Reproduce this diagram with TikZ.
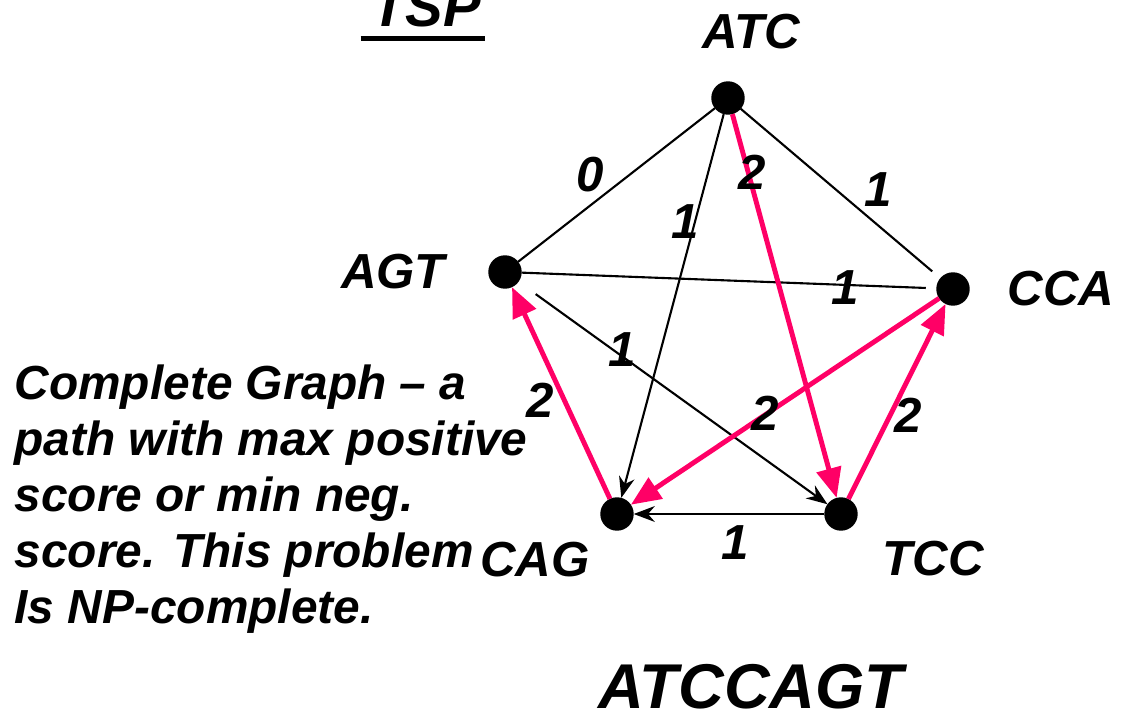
\documentclass[tikz,border=0pt]{standalone}
\usepackage{fontspec}
\setmainfont{Liberation Sans}
\usetikzlibrary{arrows.meta}
\definecolor{hotpink}{RGB}{255,0,102}

\begin{document}
\begin{tikzpicture}[x=0.01cm,y=-0.01cm]
\tikzset{blpoint/.style = {circle, fill=black, draw=black, inner sep=0pt, minimum size=0.32cm}}
\tikzset{lbl/.style = {font=\bfseries\itshape\fontsize{14}{16}\selectfont, inner sep=0pt}}
\tikzset{bkline/.style = {black, line width=0.6pt}}
\tikzset{bkarrow/.style = {bkline, -{Stealth[length=6pt,width=4.5pt]}}}
\tikzset{pkarrow/.style = {hotpink, line width=1.4pt, -{Triangle[length=8.5pt,width=7pt]}}}

\useasboundingbox (0,0) rectangle (1130,718);

    \node[blpoint] (atc) at (728,98) {};
    \node[blpoint] (agt) at (505,272) {};
    \node[blpoint] (cca) at (953,289) {};
    \node[blpoint] (cag) at (617,514) {};
    \node[blpoint] (tcc) at (841,514) {};

    \node[lbl] (latc) at (751,32) {ATC};
    \node[lbl] (lagt) at (393,272) {AGT};
    \node[lbl] (lcca) at (1061,289) {CCA};
    \node[lbl] (lcag) at (535,560) {CAG};
    \node[lbl] (ltcc) at (933,559) {TCC};

\draw[bkline] (atc) -- (agt);
\draw[bkline, shorten >=3pt] (atc) -- (cca);
\draw[bkline, shorten >=3pt] (agt) -- (cca);
\draw[bkarrow] (atc) -- (cag);
\draw[bkarrow, shorten <=6pt] (agt) -- (tcc);
\draw[bkarrow] (tcc) -- (cag);

\draw[pkarrow] (atc) -- (tcc);
\draw[pkarrow] (tcc) -- (cca);
\draw[pkarrow] (cca) -- (cag);
\draw[pkarrow] (cag) -- (agt);

    \node[lbl] (w1) at (590,175) {0};
    \node[lbl] (w2) at (878,190) {1};
    \node[lbl] (w3) at (685,222) {1};
    \node[lbl] (w4) at (845,288) {1};
    \node[lbl] (w5) at (622,350) {1};
    \node[lbl] (w6) at (735,543) {1};
    \node[lbl] (w7) at (752,172) {2};
    \node[lbl] (w8) at (765,413) {2};
    \node[lbl] (w9) at (908,415) {2};
    \node[lbl] (w10) at (540,400) {2};

    \node[lbl, font=\bfseries\itshape\fontsize{16}{18}\selectfont, anchor=base] (tsp) at (426,27) {TSP};
    \draw[line width=1.4pt] (tsp.south west) ++(-10,10) -- ++(124,0);

    \node[lbl, font=\bfseries\itshape\fontsize{18}{20}\selectfont] (seq) at (751,687) {ATCCAGT};

    \node[lbl, font=\bfseries\itshape\fontsize{13.6}{15.9}\selectfont, align=left, anchor=north west] (note) at (14,364)
      {Complete Graph -- a\\ path with max positive\\ score or min neg.\\ score. This problem\\ Is NP-complete.};
\end{tikzpicture}
\end{document}
